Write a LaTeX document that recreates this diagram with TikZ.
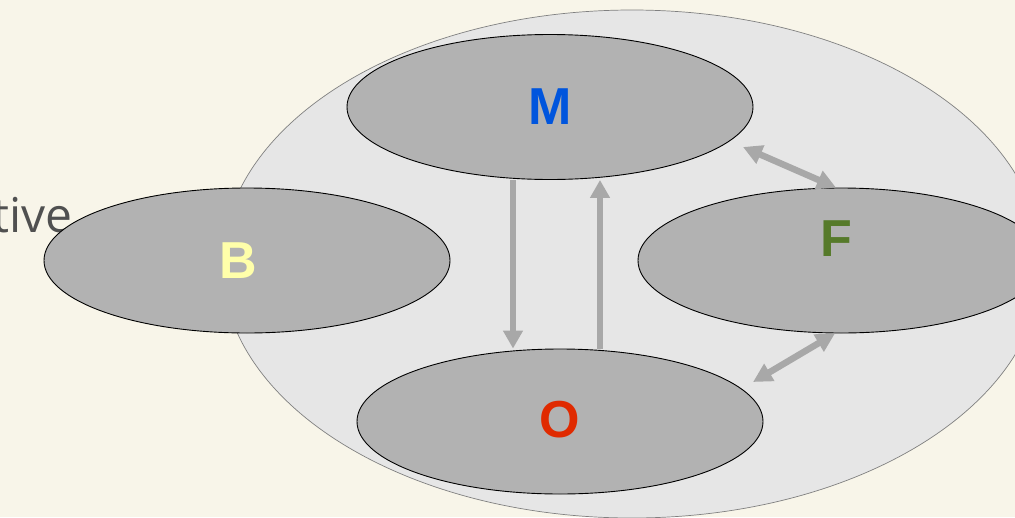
\documentclass[tikz,border=0pt]{standalone}
\usepackage{fontspec}
\setmainfont{Liberation Sans}
\newfontfamily\notefont{Open Sans}
\usetikzlibrary{shapes.geometric,arrows.meta,calc}
\definecolor{paper}{RGB}{248,245,233}
\definecolor{outer}{RGB}{230,230,230}
\definecolor{inner}{RGB}{178,178,178}
\definecolor{argray}{RGB}{168,168,168}
\definecolor{txgray}{RGB}{80,80,80}
\definecolor{mblue}{RGB}{0,85,221}
\definecolor{byellow}{RGB}{255,255,170}
\definecolor{fgreen}{RGB}{86,122,42}
\definecolor{ored}{RGB}{224,42,0}
\tikzset{
    EL/.style ={ellipse, minimum width = 406pt, minimum height = 145pt, inner sep=0pt, draw, line width=0.9pt, fill=inner},
    LB/.style ={inner sep=0pt, font=\fontsize{52}{52}\selectfont\bfseries},
    AR/.style ={argray, line width=6pt, -{Triangle[length=18pt,width=19pt]}},
    AR2/.style ={argray, line width=6.5pt, {Triangle[length=19pt,width=19pt]}-{Triangle[length=19pt,width=19pt]}}}

\begin{document}
\begin{tikzpicture}[x=1pt,y=-1pt]
        \useasboundingbox (0,0) rectangle (1015,517);
        \fill[paper] (0,0) rectangle (1015,517);
        \node[ellipse, minimum width = 820pt, minimum height = 508pt, draw=gray, line width=0.7pt, fill=outer] (ring) at (632,264) {};
        \node[anchor=base east, inner sep=0pt, text=txgray, font=\notefont\fontsize{48}{48}\selectfont] (word) at (73,232) {tive};
        \node[EL] (M) at (550,107) {};
        \node[EL] (B) at (247,260.5) {};
        \node[EL] (F) at (841,260.5) {};
        \node[EL] (O) at (560,421.5) {};
        \node[LB, text=mblue] (Mt) at (M.center) {M};
        \node[LB, text=byellow] (Bt) at ([xshift=-9pt]B.center) {B};
        \node[LB, text=fgreen] (Ft) at ([xshift=-5pt,yshift=22pt]F.center) {F};
        \node[LB, text=ored] (Ot) at ([yshift=1.5pt]O.center) {O};
        \draw[AR] ([xshift=-37pt]M.south) -- ([xshift=-47pt]O.north);
        \draw[AR] ([xshift=40pt]O.north) -- ([xshift=50pt]M.south);
        \draw[AR2] ($(M.center)+(193,40)$) -- ([xshift=-5pt]F.north);
        \draw[AR2] ([xshift=-6pt]F.south) -- ($(O.center)+(193,-39.5)$);
    \end{tikzpicture}
\end{document}
